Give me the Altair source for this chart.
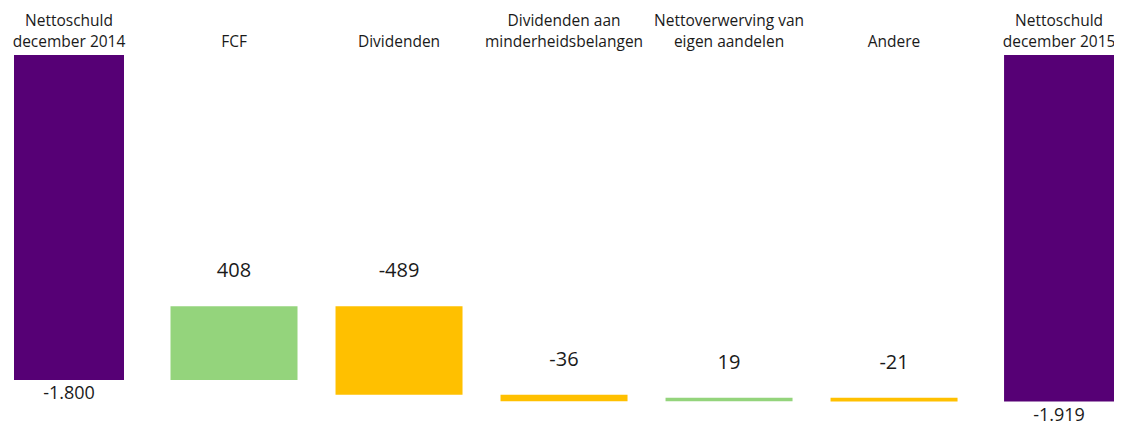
import altair as alt
import pandas as pd

categories = [
    "Nettoschuld\ndecember 2014",
    "FCF",
    "Dividenden",
    "Dividenden aan\nminderheidsbelangen",
    "Nettoverwerving van\neigen aandelen",
    "Andere",
    "Nettoschuld\ndecember 2015",
]
amounts = [-1800, 408, -489, -36, 19, -21, -1919]
kinds = ["total", "up", "down", "down", "up", "down", "total"]


def fmt(v):
    return f"{v:,}".replace(",", ".")


rows = []
running = 0
for i, (c, a, k) in enumerate(zip(categories, amounts, kinds)):
    if k == "total":
        start, end = 0, a
        running = a
    else:
        start, end = running, running + a
        running = end
    parts = c.split("\n")
    l1, l2 = (parts[0], parts[1]) if len(parts) == 2 else ("", parts[0])
    rows.append(dict(idx=i, cat=c, l1=l1, l2=l2, amount=a, kind=k, start=start, end=end,
                     top=max(start, end), label=fmt(a)))
df = pd.DataFrame(rows)

PURPLE = "#560075"
GREEN = "#94d47c"
ORANGE = "#ffc000"
TEXT = "#1a1a1a"
FONT = "Open Sans"

xs = alt.X("idx:Q", scale=alt.Scale(domain=[-0.3697, 6.333], nice=False, zero=False, padding=0), axis=None)
ys = alt.Scale(domain=[-2060, 260], nice=False, zero=False, padding=0)

base = alt.Chart(df)

totals = base.transform_filter(alt.datum.kind == "total").mark_bar(size=110, color=PURPLE).encode(
    x=xs, y=alt.Y("start:Q", scale=ys, axis=None), y2="end:Q"
)
deltas = base.transform_filter(alt.datum.kind != "total").mark_bar(size=127).encode(
    x=xs, y=alt.Y("start:Q", scale=ys, axis=None), y2="end:Q",
    color=alt.Color("kind:N", scale=alt.Scale(domain=["up", "down"], range=[GREEN, ORANGE]), legend=None),
)
total_labels = base.transform_filter(alt.datum.kind == "total").mark_text(
    fontSize=18, font=FONT, color=TEXT, baseline="middle", dy=14
).encode(x=xs, y=alt.Y("end:Q", scale=ys), text="label:N")
delta_labels = base.transform_filter(alt.datum.kind != "total").mark_text(
    fontSize=20, font=FONT, color=TEXT, baseline="middle", dy=-35
).encode(x=xs, y=alt.Y("top:Q", scale=ys), text="label:N")
cat_line1 = base.mark_text(
    fontSize=15.5, font=FONT, color=TEXT, baseline="bottom"
).encode(x=xs, y=alt.value(20.5), text="l1:N")
cat_line2 = base.mark_text(
    fontSize=15.5, font=FONT, color=TEXT, baseline="bottom"
).encode(x=xs, y=alt.value(41.5), text="l2:N")

chart = alt.layer(totals, deltas, total_labels, delta_labels, cat_line1, cat_line2).properties(
    width=1106, height=419,
    autosize=alt.AutoSizeParams(type="none"),
    padding={"left": 0, "right": 0, "top": 0, "bottom": 0},
).configure_view(stroke=None)

chart.save("out.html", embed_options={"renderer": "svg", "actions": False})
